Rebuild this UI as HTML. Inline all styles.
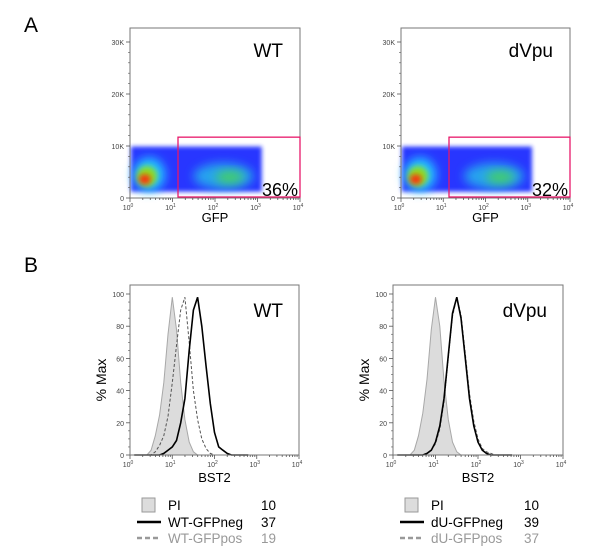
<!DOCTYPE html>
<html><head><meta charset="utf-8"><style>
body{margin:0;background:#fff;width:600px;height:553px;overflow:hidden;font-family:"Liberation Sans",Arial,sans-serif}
svg{position:absolute;left:0;top:0}
</style></head><body>
<svg id="fig" width="600" height="553" viewBox="0 0 600 553" font-family="Liberation Sans, Arial, sans-serif">
<defs>
<filter id="blur2" x="-50%" y="-50%" width="200%" height="200%"><feGaussianBlur stdDeviation="2"/></filter>
<filter id="blur3" x="-50%" y="-50%" width="200%" height="200%"><feGaussianBlur stdDeviation="3"/></filter>
<filter id="blur5" x="-50%" y="-50%" width="200%" height="200%"><feGaussianBlur stdDeviation="5"/></filter>
</defs>
<text x="24" y="32" font-size="21">A</text>
<text x="24" y="272" font-size="21">B</text>
</svg>
<script>
// ---- data ----
const histX = [0.4,0.5,0.6,0.7,0.8,0.9,1.0,1.1,1.2,1.3,1.4,1.5,1.6,1.7,1.8,1.9,2.0,2.1,2.2,2.3,2.4,2.5];
const wtPI   = [0,3,12,25,45,75,98,78,45,22,8,2,0,0,0,0,0,0,0,0,0,0];
const wtNeg  = [0,0,0,0,1,3,5,9,20,35,65,90,98,80,55,32,14,5,3,1,0,0];
const wtPos  = [0,0,2,6,12,24,45,68,90,98,70,40,22,10,4,1,0,0,0,0,0,0];
const duPI   = [0,3,12,26,47,78,98,80,46,22,8,2,0,0,0,0,0,0,0,0,0,0];
const duNeg  = [0,0,0,0,1,3,8,18,35,62,88,98,85,60,35,18,8,3,1,0,0,0];
const duPos  = [0,0,0,0,1,3,7,16,33,60,86,98,87,63,38,21,10,4,2,1,0,0];
const gatePct = ["36%","32%"];
const legendNames = [["PI","WT-GFPneg","WT-GFPpos"],["PI","dU-GFPneg","dU-GFPpos"]];
const legendVals = [[10,37,19],[10,39,37]];
const yTicksDot = [0,10000,20000,30000];
const yTickLabelsDot = ["0","10K","20K","30K"];
const yTicksHist = [0,20,40,60,80,100];

const svg=document.getElementById('fig');
const NS='http://www.w3.org/2000/svg';
function mk(tag,attrs,parent){const e=document.createElementNS(NS,tag);for(const k in attrs)e.setAttribute(k,attrs[k]);(parent||svg).appendChild(e);return e;}

function logTicks(g,x0,x1,yb){
  const sx=v=>x0+(x1-x0)*v/4;
  for(let d=0;d<4;d++)for(let m=1;m<=9;m++){
    const x=sx(d+Math.log10(m));
    mk('line',{x1:x,x2:x,y1:yb,y2:yb+(m===1?4:2),stroke:'#555','stroke-width':0.8},g);
  }
  mk('line',{x1:sx(4),x2:sx(4),y1:yb,y2:yb+4,stroke:'#555','stroke-width':0.8},g);
  for(let d=0;d<=4;d++){
    const t=mk('text',{x:sx(d)-2,y:yb+12,'font-size':7,fill:'#444','text-anchor':'middle'},g);
    t.textContent='10';
    const s=mk('tspan',{dy:-3,'font-size':5},t);s.textContent=String(d);
  }
}

function dotPanel(idx,x0,x1,gx,title){
  const top=28,y0=198,ppk=52/10000;
  const sx=v=>x0+(x1-x0)*v/4, sy=v=>y0-v*ppk;
  const g=mk('g',{});
  
  
  const c=mk('g',{},g);
  mk('rect',{x:sx(0.02),y:sy(9900),width:sx(3.1)-sx(0.02),height:sy(1200)-sy(9900),fill:'#1428ff',opacity:0.92,filter:'url(#blur2)'},c);
  mk('ellipse',{cx:sx(0.45),cy:sy(4500),rx:16,ry:17,fill:'#22c8ff',filter:'url(#blur5)'},c);
  mk('ellipse',{cx:sx(2.2),cy:sy(4200),rx:30,ry:13,fill:'#28c9e8',opacity:0.75,filter:'url(#blur5)'},c);
  mk('ellipse',{cx:sx(2.35),cy:sy(4000),rx:14,ry:6,fill:'#4ddc3c',opacity:0.8,filter:'url(#blur5)'},c);
  mk('ellipse',{cx:sx(0.4),cy:sy(4200),rx:10,ry:10,fill:'#8fe020',filter:'url(#blur3)'},c);
  mk('ellipse',{cx:sx(0.35),cy:sy(3600),rx:6,ry:5,fill:'#ff2a10',filter:'url(#blur3)'},c);
  mk('rect',{x:x0,y:top,width:x1-x0,height:y0-top,fill:'none',stroke:'#777','stroke-width':1},g);
  yTicksDot.forEach((v,i)=>{
    mk('line',{x1:x0-4,x2:x0,y1:sy(v),y2:sy(v),stroke:'#555','stroke-width':0.8},g);
    const t=mk('text',{x:x0-6,y:sy(v)+3,'font-size':7,fill:'#444','text-anchor':'end'},g);t.textContent=yTickLabelsDot[i];
  });
  for(let v=2000;v<32000;v+=2000){if(v%10000)mk('line',{x1:x0-2,x2:x0,y1:sy(v),y2:sy(v),stroke:'#555','stroke-width':0.6},g);}
  logTicks(g,x0,x1,y0);
  const gate=mk('rect',{x:gx,y:sy(11700),width:x1-gx,height:sy(0)-sy(11700)-1,fill:'none',stroke:'#e8186a','stroke-width':1.3},g);
  
  
  const p=mk('text',{x:x1-2,y:196,'font-size':18,'text-anchor':'end'},g);p.textContent=gatePct[idx];
  
  
  const tt=mk('text',{x:x1-17,y:57,'font-size':19,'text-anchor':'end'},g);tt.textContent=title;
  
  
  const xl=mk('text',{x:(x0+x1)/2,y:222,'font-size':13,'text-anchor':'middle'},g);xl.textContent='GFP';
  
  
}

function histPanel(idx,x0,x1,title,pi,neg,pos){
  const top=285,y0=455,y100=294;
  const sx=v=>x0+(x1-x0)*v/4, sy=v=>y0-(y0-y100)*v/100;
  const g=mk('g',{});
  
  
  const path=(arr,close)=>{let d='M'+sx(0.1)+','+sy(0);histX.forEach((x,i)=>{d+=' L'+sx(x).toFixed(1)+','+sy(arr[i]).toFixed(1);});d+=' L'+sx(2.8)+','+sy(0);return d+(close?' Z':'');};
  const a=mk('path',{d:path(pi,true),fill:'#dcdcdc',stroke:'#a8a8a8','stroke-width':1},g);
  
  
  const b=mk('path',{d:path(pos,false),fill:'none',stroke:'#555','stroke-width':1,'stroke-dasharray':'3,2'},g);
  
  
  const c=mk('path',{d:path(neg,false),fill:'none',stroke:'#000','stroke-width':1.6},g);
  
  
  mk('rect',{x:x0,y:top,width:x1-x0,height:y0-top,fill:'none',stroke:'#777','stroke-width':1},g);
  yTicksHist.forEach(v=>{
    mk('line',{x1:x0-4,x2:x0,y1:sy(v),y2:sy(v),stroke:'#555','stroke-width':0.8},g);
    const t=mk('text',{x:x0-6,y:sy(v)+3,'font-size':7,fill:'#444','text-anchor':'end'},g);t.textContent=String(v);
  });
  for(let v=5;v<100;v+=5){if(v%20)mk('line',{x1:x0-2,x2:x0,y1:sy(v),y2:sy(v),stroke:'#555','stroke-width':0.6},g);}
  logTicks(g,x0,x1,y0);
  const tt=mk('text',{x:x1-16,y:317,'font-size':19,'text-anchor':'end'},g);tt.textContent=title;
  
  
  const xl=mk('text',{x:(x0+x1)/2,y:482,'font-size':13,'text-anchor':'middle'},g);xl.textContent='BST2';
  
  
  const yl=mk('text',{x:0,y:0,'font-size':14,'text-anchor':'middle',transform:`translate(${x0-24},380) rotate(-90)`},g);yl.textContent='% Max';
  
  
  const lx=x0+12, rows=[510,527,543];
  const lg=mk('g',{},g);
  
  
  mk('rect',{x:lx,y:498,width:13,height:14,fill:'#dcdcdc',stroke:'#999','stroke-width':1},lg);
  mk('line',{x1:lx-5,x2:lx+19,y1:522,y2:522,stroke:'#000','stroke-width':2.5},lg);
  mk('line',{x1:lx-5,x2:lx+19,y1:538,y2:538,stroke:'#999','stroke-width':2.5,'stroke-dasharray':'5,3'},lg);
  rows.forEach((y,i)=>{
    const col=i===2?'#999':'#000';
    const n=mk('text',{x:lx+26,y:y,'font-size':13.5,fill:col},lg);n.textContent=legendNames[idx][i];
    
    
    const v=mk('text',{x:lx+134,y:y,'font-size':13.5,fill:col,'text-anchor':'end'},lg);v.textContent=String(legendVals[idx][i]);
  });
}

dotPanel(0,130,300,178,'WT');
dotPanel(1,401,570,449,'dVpu');
histPanel(0,130,299,'WT',wtPI,wtNeg,wtPos);
histPanel(1,393,563,'dVpu',duPI,duNeg,duPos);
</script>
</body></html>
